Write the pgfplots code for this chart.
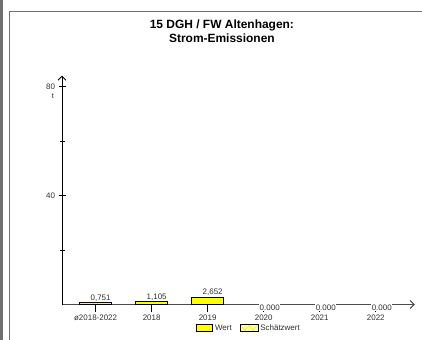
\documentclass[border=0pt]{standalone}
\usepackage{pgfplots}
\pgfplotsset{compat=1.18}
\usepackage{pgfplotstable}
\usetikzlibrary{arrows.meta}
\usepackage{fontspec}
\setmainfont{Liberation Sans}

\definecolor{barfill}{HTML}{FFFF00}
\definecolor{estfill}{HTML}{FFFFB0}
\definecolor{framegray}{HTML}{707070}
\definecolor{txt}{HTML}{303030}

% x = category index, y = t
\pgfplotstableread{
x y label
0 0.751 0,751
1 1.105 1,105
2 2.652 2,652
}\werte
\pgfplotstableread{
x y label
3 0 0.000
4 0 0.000
5 0 0.000
}\nullwerte

\begin{document}
\begin{tikzpicture}
\useasboundingbox (0,0) rectangle (422bp,340bp);
% frame
\draw[framegray, line width=2bp] (1.5bp,0) -- (1.5bp,340bp);
\draw[framegray, line width=1.5bp] (9.5bp,0) -- (9.5bp,328.5bp) -- (422bp,328.5bp);

\begin{axis}[
    at={(62bp,35.5bp)}, anchor=south west,
    scale only axis, width=353bp, height=228.9bp,
    xmin=-0.6, xmax=5.7, ymin=0, ymax=84,
    axis lines=left,
    axis line style={-{Straight Barb[length=4bp,width=8bp]}, line width=0.9bp},
    x axis line style={draw=black!70, line width=1.2bp},
    xtick={0,...,5},
    xticklabels={ø2018-2022,2018,2019,2020,2021,2022},
    ytick={40,80}, minor ytick={20,60},
    major tick length=7bp, minor tick length=5bp,
    xtick align=outside, ytick align=center,
    tick style={black, line width=0.9bp},
    tick label style={font=\fontsize{8}{9}\selectfont, text=txt},
    /pgf/number format/assume math mode=true,
    clip=false,
    title={15 DGH / FW Altenhagen:\\Strom-Emissionen},
    title style={at={(axis description cs:0.453,1.169)}, anchor=center, align=center,
        font=\fontsize{12}{14}\selectfont\bfseries},
    legend style={at={(axis description cs:0.53,-0.103)}, anchor=center, draw=none,
        legend columns=2, font=\fontsize{8}{9}\selectfont, text=txt,
        /tikz/every even column/.append style={column sep=6bp}},
]
\addplot[ybar, bar shift=0pt, bar width=32bp, fill=barfill, draw=black, line width=0.8bp,
    legend image code/.code={
        \draw[fill=barfill, draw=black, line width=0.7bp] (0bp,-3.5bp) rectangle (16bp,3.5bp);},
    point meta=explicit symbolic, nodes near coords,
    nodes near coords style={anchor=south, inner sep=1bp, xshift=5bp,
        font=\fontsize{8}{9}\selectfont, text=txt}]
    table[x=x, y=y, meta=label] {\werte};
\addlegendentry{Wert}
\addplot[draw=none, mark=none, forget plot,
    point meta=explicit symbolic, nodes near coords,
    nodes near coords style={anchor=center, inner sep=0.5bp, xshift=6bp, yshift=-3bp,
        fill=white, font=\fontsize{8}{9}\selectfont, text=txt}]
    table[x=x, y=y, meta=label] {\nullwerte};
\addlegendimage{legend image code/.code={
    \fill[estfill] (0bp,-3.5bp) rectangle (18bp,3.5bp);
    \draw[barfill!85!orange, line width=0.6bp] (1bp,2.5bp) -- (5bp,-2.5bp) -- (9bp,2.5bp) -- (13bp,-2.5bp) -- (17bp,2.5bp);
    \draw[black, line width=0.6bp] (0bp,-3.5bp) rectangle (18bp,3.5bp);}}
\addlegendentry{Schätzwert}
\end{axis}
\node[font=\fontsize{7.5}{8}\selectfont, text=txt] at (53bp,244bp) {t};
\end{tikzpicture}
\end{document}
